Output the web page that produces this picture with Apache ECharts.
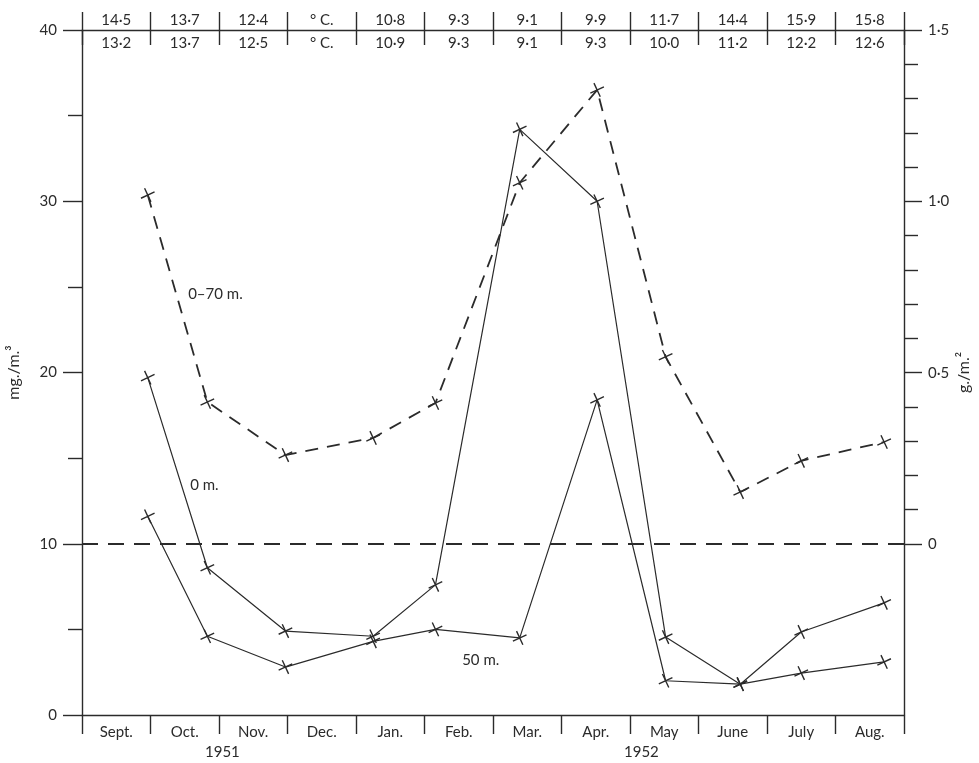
<!DOCTYPE html>
<html><head><meta charset="utf-8">
<script src="https://cdn.jsdelivr.net/npm/echarts@6/dist/echarts.min.js"></script>
<style>html,body{margin:0;padding:0;background:#fff}#c{width:979px;height:763px}</style>
</head><body><div id="c"></div>
<script>
const months = ['Sept.','Oct.','Nov.','Dec.','Jan.','Feb.','Mar.','Apr.','May','June','July','Aug.'];
const tempTop = ['14·5','13·7','12·4','° C.','10·8','9·3','9·1','9·9','11·7','14·4','15·9','15·8'];
const tempBottom = ['13·2','13·7','12·5','° C.','10·9','9·3','9·1','9·3','10·0','11·2','12·2','12·6'];
const years = ['1951','1952'];
// sampling times, months elapsed since 1 Sept 1951
const sampleTimes = [0.96,1.83,2.97,4.25,5.16,6.39,7.52,8.52,9.61,10.50,11.71];
// 0-70 m column, g./m.^2 (right axis)
const column070 = [1.018,0.414,0.259,0.309,0.411,1.054,1.325,0.546,0.151,0.242,0.297];
// 0 m, mg./m.^3 (left axis)
const surface0 = [19.7,8.6,4.9,4.6,7.6,34.2,30.0,4.55,1.8,4.85,6.55];
// 50 m, mg./m.^3 (left axis)
const depth50 = [11.6,4.6,2.8,4.3,5.0,4.5,18.4,2.0,1.8,2.45,3.1];

const INK = '#2b2b2b';
const FONT = 'Lato';
const pairs = vals => vals.map((v,i)=>[sampleTimes[i], v]);
const crossSym = 'path://M5,0L5,10M0,5L10,5';
const symStyle = {color: INK, borderColor: INK, borderWidth: 1.4};
const dot = s => s.replace('.', '·');

const chart = echarts.init(document.getElementById('c'));
chart.setOption({
  backgroundColor: '#fff',
  animation: false,
  textStyle: {fontFamily: FONT, color: INK},
  grid: [
    {left: 82, right: 75, top: 30, bottom: 48, outerBoundsMode: 'none', containLabel: false},
    {left: 82, right: 75, top: 30, height: 514, outerBoundsMode: 'none', containLabel: false}
  ],
  xAxis: [
    {type:'value', gridIndex:0, min:0, max:12, interval:1, position:'bottom',
     axisLine:{show:true, onZero:false, lineStyle:{color:INK, width:1.4}},
     axisTick:{show:true, length:19, lineStyle:{color:INK, width:1.4}},
     axisLabel:{show:false}, splitLine:{show:false}},
    {type:'category', gridIndex:0, data: months, position:'bottom', boundaryGap:true,
     axisLine:{show:false, onZero:false}, axisTick:{show:false},
     axisLabel:{margin:10, fontSize:15, color:INK, fontFamily:FONT}},
    {type:'category', gridIndex:0, data: tempTop, position:'top', boundaryGap:true,
     axisLine:{show:true, onZero:false, lineStyle:{color:INK, width:1.4}},
     axisTick:{show:true, length:18, lineStyle:{color:INK, width:1.4}},
     axisLabel:{margin:2, fontSize:15, color:INK, fontFamily:FONT}},
    {type:'category', gridIndex:0, data: tempBottom, position:'top', boundaryGap:true,
     axisLine:{show:false, onZero:false},
     axisTick:{show:true, inside:true, length:15, lineStyle:{color:INK, width:1.4}},
     axisLabel:{inside:true, margin:6, fontSize:15, color:INK, fontFamily:FONT}},
    {type:'value', gridIndex:1, min:0, max:12, show:false,
     axisLine:{show:false, onZero:false}}
  ],
  yAxis: [
    {type:'value', gridIndex:0, position:'left', min:0, max:40, interval:10,
     name:'mg./m.³', nameLocation:'middle', nameGap:60, nameRotate:90,
     nameTextStyle:{fontSize:16, color:INK, fontFamily:FONT},
     axisLine:{show:true, onZero:false, lineStyle:{color:INK, width:1.4}},
     axisTick:{show:true, length:19, lineStyle:{color:INK, width:1.4}},
     minorTick:{show:true, splitNumber:2, length:14, lineStyle:{color:INK, width:1.4}},
     axisLabel:{margin:25, fontSize:15, color:INK, fontFamily:FONT},
     splitLine:{show:false}},
    {type:'value', gridIndex:0, position:'right', min:-0.5, max:1.5,
     name:'g./m.²', nameLocation:'middle', nameGap:52, nameRotate:90,
     nameTextStyle:{fontSize:16, color:INK, fontFamily:FONT},
     axisLine:{show:true, onZero:false, lineStyle:{color:INK, width:1.4}},
     axisTick:{show:false}, axisLabel:{show:false}, splitLine:{show:false}},
    {type:'value', gridIndex:1, position:'right', min:0, max:1.5, interval:0.5,
     axisLine:{show:false, onZero:false},
     axisTick:{show:true, length:18, lineStyle:{color:INK, width:1.4}},
     minorTick:{show:true, splitNumber:5, length:14, lineStyle:{color:INK, width:1.4}},
     axisLabel:{margin:24, fontSize:15, color:INK, fontFamily:FONT,
       formatter: v => v === 0 ? '0' : dot(v.toFixed(1))},
     splitLine:{show:false}}
  ],
  graphic: [
    {type:'text', left: 223 - 18, top: 745, style:{text: years[0], font:'15px Lato', fill: INK}},
    {type:'text', left: 642 - 18, top: 745, style:{text: years[1], font:'15px Lato', fill: INK}}
  ],
  series: [
    {name:'0–70 m.', type:'line', xAxisIndex:0, yAxisIndex:1, data: pairs(column070),
     symbol: crossSym, symbolSize: 15, symbolRotate: 25, itemStyle: symStyle,
     lineStyle:{color:INK, width:1.8, type:[13,9]},
     markLine:{silent:true, symbol:'none', label:{show:false},
       lineStyle:{color:INK, width:1.8, type:[16,10]},
       data:[{yAxis:0}]},
     markPoint:{symbol:'circle', symbolSize:0,
       label:{show:true, position:'right', distance:0, formatter:'0–70 m.', fontSize:15, color:INK, fontFamily:FONT},
       data:[{coord:[1.55, 0.73]}]}},
    {name:'0 m.', type:'line', xAxisIndex:0, yAxisIndex:0, data: pairs(surface0),
     symbol: crossSym, symbolSize: 15, symbolRotate: 25, itemStyle: symStyle,
     lineStyle:{color:INK, width:1.2},
     markPoint:{symbol:'circle', symbolSize:0,
       label:{show:true, position:'right', distance:0, formatter:'0 m.', fontSize:15, color:INK, fontFamily:FONT},
       data:[{coord:[1.58, 13.4]}]}},
    {name:'50 m.', type:'line', xAxisIndex:0, yAxisIndex:0, data: pairs(depth50),
     symbol: crossSym, symbolSize: 15, symbolRotate: 25, itemStyle: symStyle,
     lineStyle:{color:INK, width:1.2},
     markPoint:{symbol:'circle', symbolSize:0,
       label:{show:true, position:'right', distance:0, formatter:'50 m.', fontSize:15, color:INK, fontFamily:FONT},
       data:[{coord:[5.55, 3.2]}]}}
  ]
});
</script></body></html>
